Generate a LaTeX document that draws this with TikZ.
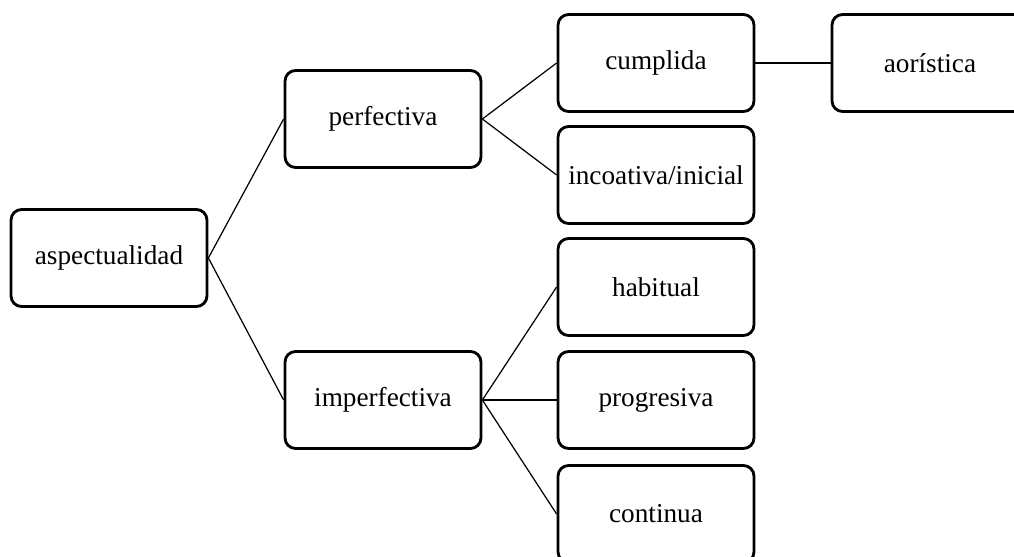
\documentclass[tikz,border=0pt]{standalone}
\usepackage{fontspec}
\setmainfont{Liberation Serif}
\tikzset{
  caja/.style={draw, line width=1.6pt, rounded corners=6pt, minimum width=3.92cm, minimum height=1.94cm, inner sep=2pt, font=\fontsize{15.5}{18}\selectfont},
  rama/.style={line width=0.7pt}
}
\begin{document}
\begin{tikzpicture}[x=0.02cm, y=-0.02cm]
\useasboundingbox (0,0) rectangle (1014,557);
\node[caja] (asp) at (109,258) {aspectualidad};
\node[caja] (perf) at (383,119) {perfectiva};
\node[caja] (imperf) at (383,400) {imperfectiva};
\node[caja] (cump) at (656,63) {cumplida};
\node[caja] (inco) at (656,175) {incoativa/inicial};
\node[caja] (hab) at (656,287) {habitual};
\node[caja] (prog) at (656,400) {progresiva};
\node[caja] (cont) at (656,514) {continua};
\node[caja] (aor) at (930,63) {aorística};
\draw[rama] (asp.east) -- (perf.west);
\draw[rama] (asp.east) -- (imperf.west);
\draw[rama] (perf.east) -- (cump.west);
\draw[rama] (perf.east) -- (inco.west);
\draw[rama] (imperf.east) -- (hab.west);
\draw[rama] (imperf.east) -- (prog.west);
\draw[rama] (imperf.east) -- (cont.west);
\draw[rama] (cump.east) -- (aor.west);
\end{tikzpicture}
\end{document}
